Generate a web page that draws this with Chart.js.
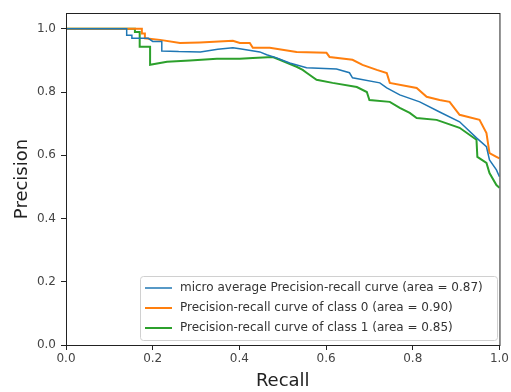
<!DOCTYPE html>
<html>
<head>
<meta charset="utf-8">
<script src="https://cdn.jsdelivr.net/npm/chart.js@4/dist/chart.umd.min.js"></script>
<style>
  html, body { margin: 0; padding: 0; background: #fff; }
  #wrap { width: 511px; height: 392px; position: relative; }
</style>
</head>
<body>
<div id="wrap"><canvas id="chart" width="511" height="392"></canvas></div>
<script>
// data
const microRecall = [0, 0.14, 0.14, 0.152, 0.152, 0.19, 0.2, 0.221, 0.221, 0.26, 0.31, 0.35, 0.385, 0.401, 0.447, 0.463, 0.486, 0.516, 0.555, 0.624, 0.654, 0.661, 0.724, 0.74, 0.77, 0.816, 0.862, 0.908, 0.947, 0.97, 0.977, 0.993, 1.0];
const microPrecision = [1.0, 1.0, 0.98, 0.98, 0.97, 0.97, 0.96, 0.96, 0.93, 0.928, 0.927, 0.935, 0.94, 0.937, 0.927, 0.918, 0.908, 0.892, 0.877, 0.873, 0.861, 0.845, 0.829, 0.813, 0.791, 0.769, 0.737, 0.706, 0.655, 0.627, 0.585, 0.554, 0.532];

const class0Recall = [0, 0.175, 0.175, 0.182, 0.182, 0.217, 0.263, 0.309, 0.385, 0.401, 0.424, 0.431, 0.47, 0.532, 0.601, 0.608, 0.661, 0.684, 0.717, 0.74, 0.747, 0.809, 0.832, 0.862, 0.885, 0.908, 0.954, 0.97, 0.977, 0.993, 1.0];
const class0Precision = [1.0, 1.0, 0.985, 0.985, 0.97, 0.965, 0.955, 0.957, 0.962, 0.955, 0.955, 0.94, 0.94, 0.927, 0.924, 0.911, 0.902, 0.886, 0.87, 0.86, 0.829, 0.813, 0.785, 0.775, 0.769, 0.728, 0.712, 0.67, 0.607, 0.595, 0.59];

const class1Recall = [0, 0.159, 0.159, 0.17, 0.17, 0.194, 0.194, 0.233, 0.286, 0.348, 0.401, 0.431, 0.477, 0.493, 0.532, 0.546, 0.555, 0.578, 0.615, 0.671, 0.694, 0.7, 0.747, 0.77, 0.793, 0.809, 0.855, 0.908, 0.947, 0.949, 0.97, 0.977, 0.993, 1.0];
const class1Precision = [1.0, 1.0, 0.99, 0.99, 0.943, 0.943, 0.886, 0.896, 0.9, 0.905, 0.905, 0.908, 0.911, 0.902, 0.88, 0.87, 0.861, 0.839, 0.829, 0.816, 0.8, 0.775, 0.769, 0.75, 0.734, 0.718, 0.712, 0.687, 0.649, 0.595, 0.576, 0.544, 0.506, 0.497];

const seriesLabels = [
  'micro average Precision-recall curve (area = 0.87)',
  'Precision-recall curve of class 0 (area = 0.90)',
  'Precision-recall curve of class 1 (area = 0.85)'
];
const xTicks = [0, 0.2, 0.4, 0.6, 0.8, 1.0];
const yTicks = [0, 0.2, 0.4, 0.6, 0.8, 1.0];

function pts(xs, ys) {
  return xs.map((x, i) => ({ x: x, y: ys[i] }));
}

const FONT = "'DejaVu Sans', sans-serif";

// box round the plot + legend inside, lower right
const framePlugin = {
  id: 'frame',
  afterDraw(chart) {
    const { ctx, chartArea: a } = chart;
    ctx.save();
    ctx.strokeStyle = '#222';
    ctx.lineWidth = 1;
    ctx.strokeRect(a.left + 0.5, a.top + 0.5, a.right - a.left, a.bottom - a.top);

    // legend
    const bx = 140, by = 276, bw = 357, bh = 64;
    ctx.fillStyle = 'rgba(255,255,255,0.8)';
    ctx.strokeStyle = '#d0d0d0';
    ctx.beginPath();
    ctx.roundRect(bx + 0.5, by + 0.5, bw, bh, 3);
    ctx.fill();
    ctx.stroke();
    ctx.font = '12px ' + FONT;
    ctx.textBaseline = 'middle';
    chart.data.datasets.forEach((ds, i) => {
      const y = by + 12 + i * 20;
      ctx.strokeStyle = ds.borderColor;
      ctx.lineWidth = ds.borderWidth;
      ctx.beginPath();
      ctx.moveTo(bx + 5, y);
      ctx.lineTo(bx + 32, y);
      ctx.stroke();
      ctx.fillStyle = '#333';
      ctx.fillText(ds.label, bx + 40, y);
    });
    ctx.restore();
  }
};

new Chart(document.getElementById('chart'), {
  type: 'line',
  data: {
    datasets: [
      { label: seriesLabels[0], data: pts(microRecall, microPrecision), borderColor: '#1f77b4', borderWidth: 1.5 },
      { label: seriesLabels[1], data: pts(class0Recall, class0Precision), borderColor: '#ff7f0e', borderWidth: 2 },
      { label: seriesLabels[2], data: pts(class1Recall, class1Precision), borderColor: '#2ca02c', borderWidth: 2 }
    ]
  },
  options: {
    responsive: false,
    animation: false,
    layout: { padding: { top: 13, right: 11, left: 0, bottom: 0 } },
    elements: { point: { radius: 0 }, line: { tension: 0 } },
    plugins: { legend: { display: false }, tooltip: { enabled: false } },
    scales: {
      x: {
        type: 'linear', min: 0, max: 1.0,
        afterBuildTicks: s => { s.ticks = xTicks.map(v => ({ value: v })); },
        afterFit: s => { s.height = 47; },
        grid: { drawOnChartArea: false, drawTicks: true, tickLength: 5, color: '#222' },
        border: { display: true, color: '#222' },
        ticks: { font: { family: FONT, size: 12 }, color: '#444', padding: 2, maxRotation: 0, callback: v => v.toFixed(1) },
        title: { display: true, text: 'Recall', font: { family: FONT, size: 18 }, color: '#222', padding: { top: 2, bottom: 0 } }
      },
      y: {
        type: 'linear', min: 0, max: 1.05,
        afterBuildTicks: s => { s.ticks = yTicks.map(v => ({ value: v })); },
        afterFit: s => { s.width = 66; },
        grid: { drawOnChartArea: false, drawTicks: true, tickLength: 5, color: '#222' },
        border: { display: true, color: '#222' },
        ticks: { font: { family: FONT, size: 12 }, color: '#444', padding: 5, callback: v => v.toFixed(1) },
        title: { display: true, text: 'Precision', font: { family: FONT, size: 18 }, color: '#222', padding: { top: 12, bottom: 0 } }
      }
    }
  },
  plugins: [framePlugin]
});
</script>
</body>
</html>
